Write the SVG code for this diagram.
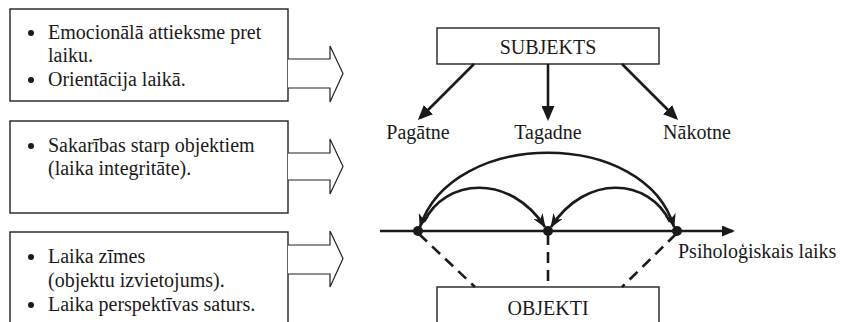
<svg xmlns="http://www.w3.org/2000/svg" width="841" height="322" viewBox="0 0 841 322">
<style>
  .t { font-size: 20px; fill: #1a1a1a; }
  .box { fill: #fff; stroke: #222; stroke-width: 1.4; }
  .harrow { fill: #fff; stroke: #222; stroke-width: 1.2; stroke-linejoin: miter; }
  .conn { fill: none; stroke: #1a1a1a; stroke-width: 2.6; }
  .dash { fill: none; stroke: #1a1a1a; stroke-width: 2.6; stroke-dasharray: 11 7; }
  .mid { text-anchor: middle; }
</style>
<defs>
  <marker id="tri" markerUnits="userSpaceOnUse" markerWidth="15" markerHeight="13" refX="12" refY="6.5" orient="auto">
    <path d="M0,0 L15,6.5 L0,13 z" fill="#1a1a1a"/>
  </marker>
  <marker id="barb" markerUnits="userSpaceOnUse" markerWidth="14" markerHeight="11" refX="13" refY="5.5" orient="auto-start-reverse">
    <path d="M0,0 L14,5.5 L0,11 L4,5.5 z" fill="#1a1a1a"/>
  </marker>
  <marker id="axis" markerUnits="userSpaceOnUse" markerWidth="13" markerHeight="11" refX="11" refY="5.5" orient="auto">
    <path d="M0,0 L13,5.5 L0,11 z" fill="#1a1a1a"/>
  </marker>
</defs>

<g font-family="'Liberation Serif', 'DejaVu Serif', serif">
<g id="box1">
  <rect class="box" x="10" y="9" width="278" height="92"/>
  <circle cx="31" cy="33" r="3" fill="#1a1a1a"/>
  <text class="t" x="48" y="39">Emocionālā attieksme pret</text>
  <text class="t" x="48" y="62">laiku.</text>
  <circle cx="31" cy="80" r="3" fill="#1a1a1a"/>
  <text class="t" x="48" y="86">Orientācija laikā.</text>
</g>
<g id="box2">
  <rect class="box" x="10" y="121" width="278" height="92"/>
  <circle cx="31" cy="146" r="3" fill="#1a1a1a"/>
  <text class="t" x="48" y="152">Sakarības starp objektiem</text>
  <text class="t" x="48" y="175">(laika integritāte).</text>
</g>
<g id="box3">
  <rect class="box" x="10" y="232" width="278" height="100"/>
  <circle cx="31" cy="257" r="3" fill="#1a1a1a"/>
  <text class="t" x="48" y="263">Laika zīmes</text>
  <text class="t" x="48" y="287">(objektu izvietojums).</text>
  <circle cx="31" cy="305" r="3" fill="#1a1a1a"/>
  <text class="t" x="48" y="311">Laika perspektīvas saturs.</text>
</g>

<g id="hollow-arrows">
  <path class="harrow" d="M288,59 L330,59 L330,46 L343,73.5 L330,102 L330,88 L288,88"/>
  <path class="harrow" d="M288,153 L330,153 L330,139 L343,166.5 L330,194 L330,180 L288,180"/>
  <path class="harrow" d="M288,245 L330,245 L330,231 L343,258.5 L330,287 L330,274 L288,274"/>
</g>

<g id="subjekts">
  <rect class="box" x="437" y="28" width="222" height="36"/>
  <text class="t mid" x="548" y="54">SUBJEKTS</text>
</g>
<g id="pagatne"><text class="t mid" x="418" y="139">Pagātne</text></g>
<g id="tagadne"><text class="t mid" x="548" y="139">Tagadne</text></g>
<g id="nakotne"><text class="t mid" x="697" y="139">Nākotne</text></g>

<g id="objekti">
  <rect class="box" x="437" y="287" width="222" height="45"/>
  <text class="t mid" x="548" y="315">OBJEKTI</text>
</g>

<g id="axis-label"><text class="t" x="678" y="258">Psiholoģiskais laiks</text></g>
</g>

<g id="connectors">
  <line class="conn" x1="474" y1="64" x2="420" y2="118" marker-end="url(#tri)"/>
  <line class="conn" x1="548" y1="64" x2="548" y2="118" marker-end="url(#tri)"/>
  <line class="conn" x1="622" y1="64" x2="676" y2="118" marker-end="url(#tri)"/>

  <line class="conn" x1="380" y1="231" x2="733" y2="231" stroke-width="2.2" marker-end="url(#axis)"/>

  <path class="conn" d="M420,227 C452,128 645,128 674,227" marker-start="url(#barb)" marker-end="url(#barb)"/>
  <path class="conn" d="M424,222 C445,178 510,173 545,227" marker-end="url(#barb)"/>
  <path class="conn" d="M670,222 C649,178 586,173 551,227" marker-end="url(#barb)"/>

  <line class="dash" x1="419" y1="234" x2="475" y2="287"/>
  <line class="dash" x1="548" y1="234" x2="548" y2="287"/>
  <line class="dash" x1="676" y1="234" x2="622" y2="287"/>

  <circle cx="418" cy="231" r="5" fill="#1a1a1a"/>
  <circle cx="548" cy="231" r="5" fill="#1a1a1a"/>
  <circle cx="677" cy="231" r="5" fill="#1a1a1a"/>
</g>
</svg>
